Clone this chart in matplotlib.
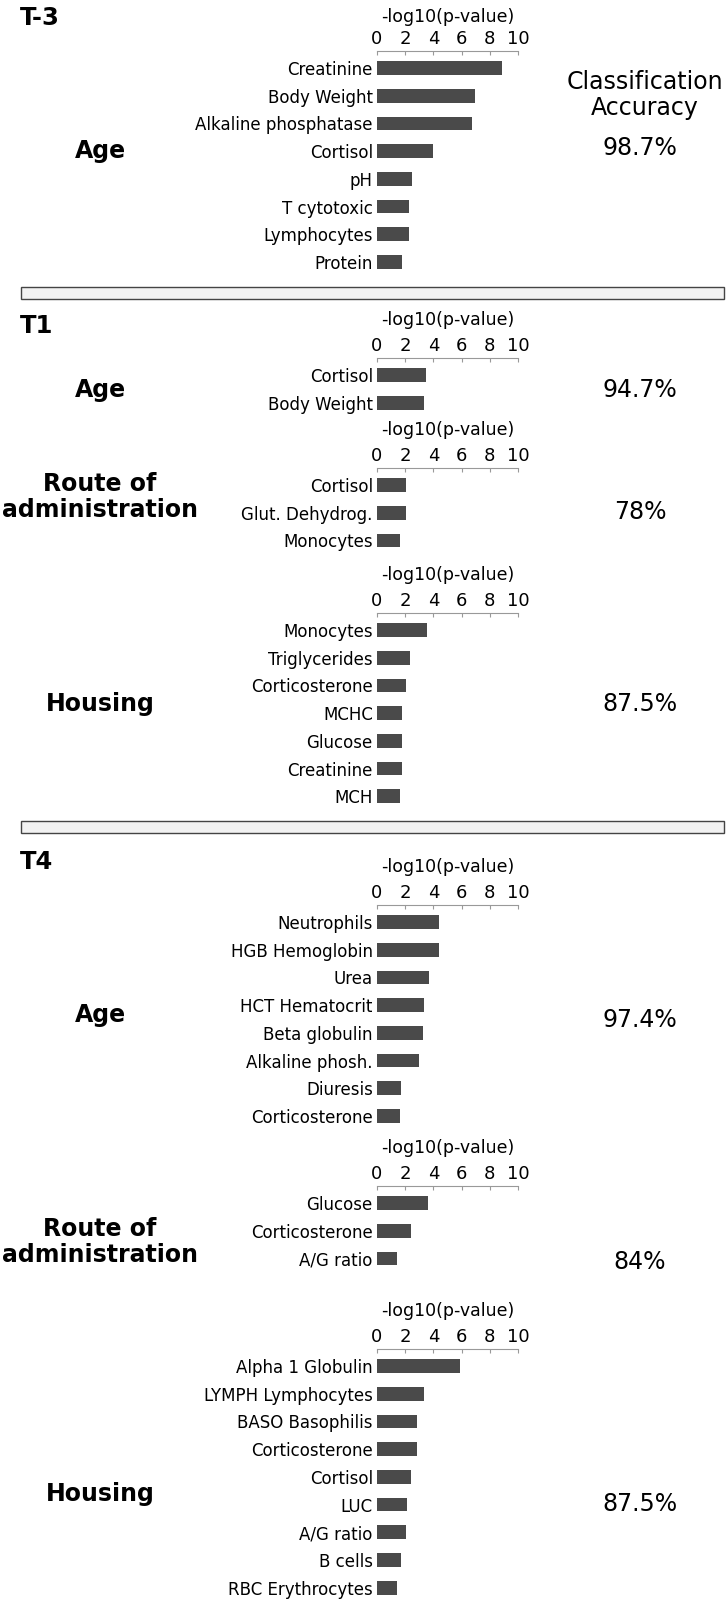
import matplotlib
matplotlib.use("Agg")
import matplotlib.pyplot as plt
from matplotlib.patches import Rectangle

W, H = 726, 1599

# data
t3_age_names = ["Creatinine", "Body Weight", "Alkaline phosphatase", "Cortisol",
                "pH", "T cytotoxic", "Lymphocytes", "Protein"]
t3_age_vals = [8.9, 6.95, 6.75, 4.0, 2.5, 2.25, 2.25, 1.8]

t1_age_names = ["Cortisol", "Body Weight"]
t1_age_vals = [3.45, 3.35]

t1_route_names = ["Cortisol", "Glut. Dehydrog.", "Monocytes"]
t1_route_vals = [2.05, 2.05, 1.6]

t1_housing_names = ["Monocytes", "Triglycerides", "Corticosterone", "MCHC",
                    "Glucose", "Creatinine", "MCH"]
t1_housing_vals = [3.55, 2.35, 2.05, 1.8, 1.8, 1.8, 1.6]

t4_age_names = ["Neutrophils", "HGB Hemoglobin", "Urea", "HCT Hematocrit",
                "Beta globulin", "Alkaline phosh.", "Diuresis", "Corticosterone"]
t4_age_vals = [4.4, 4.4, 3.7, 3.35, 3.25, 2.95, 1.7, 1.6]

t4_route_names = ["Glucose", "Corticosterone", "A/G ratio"]
t4_route_vals = [3.6, 2.4, 1.45]

t4_housing_names = ["Alpha 1 Globulin", "LYMPH Lymphocytes", "BASO Basophilis",
                    "Corticosterone", "Cortisol", "LUC", "A/G ratio", "B cells",
                    "RBC Erythrocytes"]
t4_housing_vals = [5.9, 3.35, 2.85, 2.85, 2.4, 2.15, 2.05, 1.7, 1.4]

accuracies = ["98.7%", "94.7%", "78%", "87.5%", "97.4%", "84%", "87.5%"]
groups = ["Age", "Age", "Route of\nadministration", "Housing",
          "Age", "Route of\nadministration", "Housing"]

panels = [(t3_age_names, t3_age_vals), (t1_age_names, t1_age_vals),
          (t1_route_names, t1_route_vals), (t1_housing_names, t1_housing_vals),
          (t4_age_names, t4_age_vals), (t4_route_names, t4_route_vals),
          (t4_housing_names, t4_housing_vals)]

# layout (pixels)
panel_top = [51, 358, 468, 613, 905, 1186, 1349]
group_y = [151, 390, 497, 704, 1015, 1242, 1494]
acc_y = [148, 390, 512, 704, 1020, 1262, 1504]
row = 27.7
x0, x1 = 377, 518

fig = plt.figure(figsize=(W / 100, H / 100), dpi=100)


def fy(y):
    return 1 - y / H


for i, ((names, vals), top) in enumerate(zip(panels, panel_top)):
    n = len(names)
    lo, hi = -0.615, n - 0.5
    h = (hi - lo) * row
    ax = fig.add_axes([x0 / W, fy(top + h), (x1 - x0) / W, h / H])
    ax.barh(range(n), vals, height=0.5, color="#4a4a4a")
    ax.set_xlim(0, 10)
    ax.set_ylim(hi, lo)
    ax.set_yticks(range(n))
    ax.set_yticklabels(names, fontsize=12)
    ax.tick_params(axis="y", length=0, pad=3)
    ax.xaxis.tick_top()
    ax.xaxis.set_label_position("top")
    ax.set_xticks([0, 2, 4, 6, 8, 10])
    ax.tick_params(axis="x", direction="in", length=3, color="#999999",
                   labelsize=13, pad=2)
    ax.set_xlabel("-log10(p-value)", fontsize=12.5, labelpad=6 if i == 0 else 9)
    for s in ["left", "right", "bottom"]:
        ax.spines[s].set_visible(False)
    ax.spines["top"].set_color("#999999")
    ax.spines["top"].set_linewidth(0.8)
    ax.set_facecolor("none")

for g, y in zip(groups, group_y):
    fig.text(100 / W, fy(y), g, fontsize=17, fontweight="bold",
             ha="center", va="center", linespacing=1.1)

for a, y in zip(accuracies, acc_y):
    fig.text(640 / W, fy(y), a, fontsize=17, ha="center", va="center")

fig.text(645 / W, fy(95), "Classification\nAccuracy", fontsize=17,
         ha="center", va="center", linespacing=1.15)

for t, y in zip(["T-3", "T1", "T4"], [18, 326, 862]):
    fig.text(20 / W, fy(y), t, fontsize=17.5, fontweight="bold",
             ha="left", va="center")

# separators
for ytop in [287, 821]:
    fig.patches.append(Rectangle((21 / W, fy(ytop + 12)), (724 - 21) / W, 12 / H,
                                 transform=fig.transFigure, facecolor="#f2f2f2",
                                 edgecolor="#444444", linewidth=1))

fig.savefig("out.png", dpi=100)
